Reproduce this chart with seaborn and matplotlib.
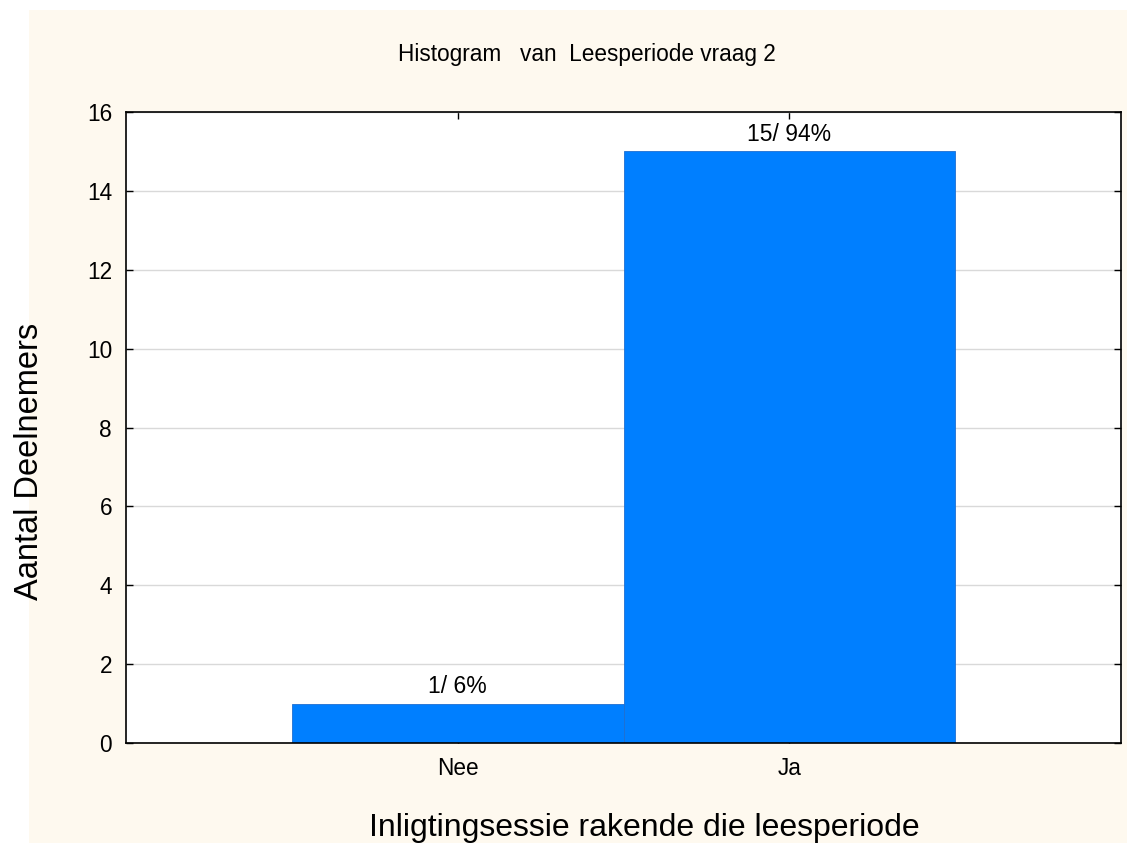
import numpy as np
import pandas as pd
import matplotlib
matplotlib.use('Agg')
import matplotlib.pyplot as plt
from matplotlib.patches import Rectangle
import seaborn as sns

categories = ['Nee', 'Ja']
counts = [1, 15]
percents = [6, 94]
y_ticks = [0, 2, 4, 6, 8, 10, 12, 14, 16]

sns.set_style('white')
plt.rcParams['font.family'] = ['Liberation Sans', 'DejaVu Sans']
plt.rcParams['text.color'] = 'black'

W, H = 1135, 843
fig = plt.figure(figsize=(W / 100, H / 100), dpi=100, facecolor='white')
# cream panel behind the chart
bg = Rectangle((29 / W, 0), (1127 - 29) / W, (843 - 10) / H,
               transform=fig.transFigure, facecolor='#FEF9EF',
               edgecolor='none', zorder=-10)
fig.add_artist(bg)

ax = fig.add_axes([126 / W, 1 - 743 / H, (1121 - 126) / W, (743 - 112) / H])
ax.set_facecolor('white')

df = pd.DataFrame({'cat': categories, 'n': counts})
sns.barplot(data=df, x='cat', y='n', color='#007FFF', saturation=1, width=1.0,
            edgecolor='#1f6fd0', linewidth=0.6, ax=ax)

ax.set_xlim(-1, 2)
ax.set_ylim(0, 16)
ax.set_yticks(y_ticks)
ax.grid(axis='y', color='#d9d9d9', linewidth=1)
ax.set_axisbelow(True)
for s in ax.spines.values():
    s.set_visible(True)
    s.set_color('black')
    s.set_linewidth(1.2)

ax.tick_params(axis='both', direction='in', length=5, width=1, colors='black',
               labelsize=16.3, top=True, right=True, left=True, bottom=True)
ax.tick_params(axis='x', pad=10)
ax.tick_params(axis='y', pad=10)

labels = [f'{c}/ {p}%' for c, p in zip(counts, percents)]
ax.bar_label(ax.containers[0], labels=labels, padding=4, fontsize=16.5, color='black')

ax.set_xlabel('Inligtingsessie rakende die leesperiode', fontsize=23, color='black', va='center')
ax.xaxis.set_label_coords(0.521, -(828 - 743) / 631)
ax.set_ylabel('Aantal Deelnemers', fontsize=23.5, color='black', va='center')
ax.yaxis.set_label_coords((30 - 126) / 995, 1 - (461 - 112) / 631)
ax.set_title('Histogram   van  Leesperiode vraag 2', fontsize=16.3, color='black',
             x=0.463, y=1 + (112 - 55) / 631, va='center', pad=0)

fig.savefig('out.png', dpi=100, facecolor=fig.get_facecolor())
